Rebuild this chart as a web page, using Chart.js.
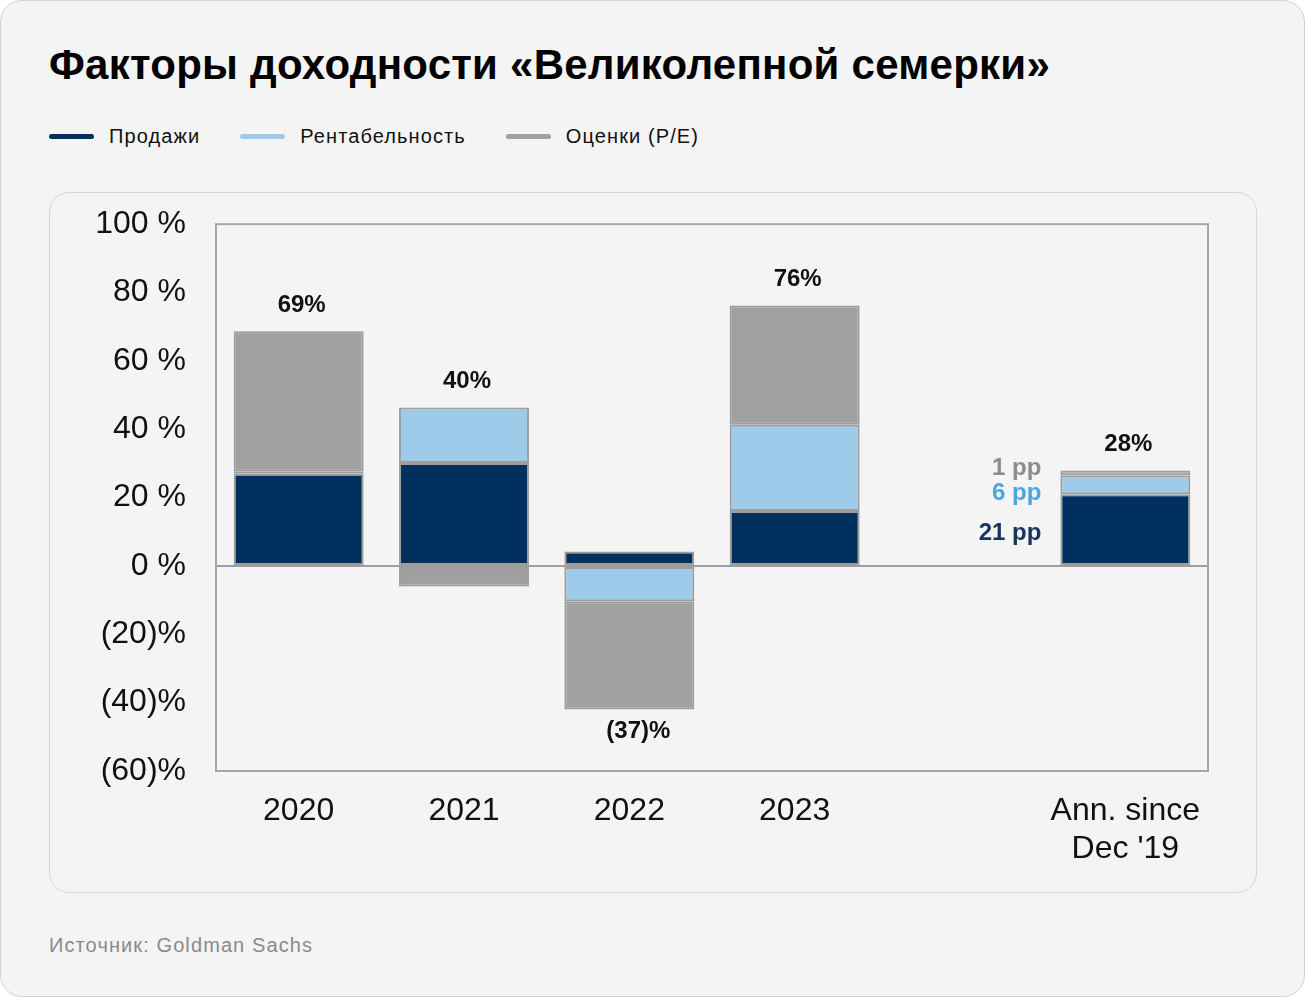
<!DOCTYPE html>
<html>
<head>
<meta charset="utf-8">
<script src="https://cdn.jsdelivr.net/npm/chart.js@4.4.1/dist/chart.umd.min.js"></script>
<style>
  html, body { margin: 0; padding: 0; background: #ffffff; }
  .card {
    position: absolute; left: 0; top: 0; width: 1303px; height: 995px;
    background: #f4f4f4; border: 1px solid #d2d2d2; border-radius: 22px;
    font-family: "Liberation Sans", Arial, sans-serif;
  }
  .title {
    position: absolute; left: 48px; top: 40px; margin: 0;
    font-size: 42px; font-weight: 700; color: #000; letter-spacing: 0.25px;
  }
  .legend { position: absolute; left: 48px; top: 124px; display: flex; }
  .legend-item { display: flex; align-items: center; margin-right: 40px; font-size: 20px; color: #111; letter-spacing: 1.1px; }
  .legend-item .swatch { width: 45px; height: 5px; border-radius: 3px; margin-right: 15px; }
  .panel {
    position: absolute; left: 48px; top: 191px; width: 1206px; height: 699px;
    border: 1px solid #d6d6d6; border-radius: 20px; background: #f4f4f4;
  }
  .panel canvas { position: absolute; left: 0; top: -18px; }
  .source { position: absolute; left: 48px; top: 933px; font-size: 20px; color: #8a8a8a; letter-spacing: 1.1px; }
</style>
</head>
<body>
<div class="card">
  <h1 class="title">Факторы доходности «Великолепной семерки»</h1>
  <div class="legend" id="legend"></div>
  <div class="panel"><canvas id="chart" width="1206" height="717"></canvas></div>
  <div class="source">Источник: Goldman Sachs</div>
</div>
<script>
const categories = ['2020', '2021', '2022', '2023', '', ['Ann. since', "Dec '19"]];
const sales = [27, 30.1, 4.2, 16.1, null, 21];
const profitability = [0.7, 16.3, -10.3, 25.2, null, 5.5];
const valuation = [41, -6, -31.7, 34.9, null, 1.4];
const totalLabels = ['69%', '40%', '(37)%', '76%', '', '28%'];
const annLabels = ['1 pp', '6 pp', '21 pp'];
const yTicks = [100, 80, 60, 40, 20, 0, -20, -40, -60];

const seriesNames = ['Продажи', 'Рентабельность', 'Оценки (P/E)'];
const seriesColors = ['#00305e', '#9dcbe9', '#a0a0a0'];
const annColors = ['#8c8c8c', '#4aa6e0', '#15355f'];

const legend = document.getElementById('legend');
seriesNames.forEach(function (name, i) {
    const item = document.createElement('div');
    item.className = 'legend-item';
    item.innerHTML = '<span class="swatch" style="background:' + seriesColors[i] + '"></span>' + name;
    legend.appendChild(item);
});

function fmtTick(v) {
    return v < 0 ? '(' + Math.abs(v) + ')%' : v + ' %';
}

const labelsPlugin = {
    id: 'labelsPlugin',
    beforeDatasetsDraw(chart) {
        const { ctx, chartArea } = chart;
        ctx.save();
        ctx.strokeStyle = '#a6a6a6';
        ctx.lineWidth = 2;
        ctx.strokeRect(chartArea.left, chartArea.top, chartArea.right - chartArea.left, chartArea.bottom - chartArea.top);
        ctx.restore();
    },
    afterDatasetsDraw(chart) {
        const { ctx } = chart;
        const y = chart.scales.y;
        const meta = chart.getDatasetMeta(0);
        ctx.save();
        ctx.font = 'bold 24px "Liberation Sans", Arial, sans-serif';
        ctx.textAlign = 'center';
        ctx.textBaseline = 'middle';
        ctx.fillStyle = '#111';
        totalLabels.forEach(function (label, i) {
            if (!label) return;
            let pos = 0, neg = 0;
            chart.data.datasets.forEach(function (ds) {
                const v = ds.data[i] || 0;
                if (v > 0) pos += v; else neg += v;
            });
            const x = meta.data[i].x + 3;
            if (label.charAt(0) === '(') {
                ctx.fillText(label, x + 6, y.getPixelForValue(neg) + 22);
            } else {
                ctx.fillText(label, x, y.getPixelForValue(pos) - 26);
            }
        });
        // pp annotations beside the last bar
        const last = categories.length - 1;
        const bar = meta.data[last];
        const right = bar.x - bar.width / 2 - 19;
        const s = sales[last], p = profitability[last], v = valuation[last];
        const ys = [
            y.getPixelForValue(s + p + v) - 2,
            y.getPixelForValue(s + p) + 18,
            y.getPixelForValue(s / 2) + 3
        ];
        ctx.textAlign = 'right';
        annLabels.forEach(function (t, k) {
            ctx.fillStyle = annColors[k];
            ctx.fillText(t, right, ys[k]);
        });
        ctx.restore();
    }
};

const datasetValues = [sales, profitability, valuation];
new Chart(document.getElementById('chart'), {
    type: 'bar',
    data: {
        labels: categories,
        datasets: datasetValues.map(function (vals, i) {
            return {
                label: seriesNames[i],
                data: vals,
                backgroundColor: seriesColors[i],
                borderColor: 'rgba(120,120,120,0.7)',
                borderWidth: 2,
                borderSkipped: false,
                barPercentage: 0.786,
                categoryPercentage: 1
            };
        })
    },
    options: {
        responsive: false,
        animation: false,
        layout: { padding: { top: 14, right: 48, bottom: 0, left: 0 } },
        plugins: { legend: { display: false }, tooltip: { enabled: false } },
        scales: {
            x: {
                stacked: true,
                grid: { display: false },
                border: { display: false },
                ticks: {
                    color: '#111',
                    padding: 13,
                    maxRotation: 0,
                    font: { family: '"Liberation Sans", Arial, sans-serif', size: 32 }
                },
                afterFit(scale) { scale.height = 121; }
            },
            y: {
                stacked: true,
                min: -60,
                max: 100,
                afterBuildTicks(scale) { scale.ticks = yTicks.map(function (v) { return { value: v }; }); },
                grid: {
                    drawTicks: false,
                    color: function (c) { return c.tick && c.tick.value === 0 ? '#9e9e9e' : 'rgba(0,0,0,0)'; },
                    lineWidth: 2
                },
                border: { display: false },
                ticks: {
                    color: '#111',
                    padding: 30,
                    callback: fmtTick,
                    font: { family: '"Liberation Sans", Arial, sans-serif', size: 32 }
                },
                afterFit(scale) { scale.width = 166; }
            }
        }
    },
    plugins: [labelsPlugin]
});
</script>
</body>
</html>
